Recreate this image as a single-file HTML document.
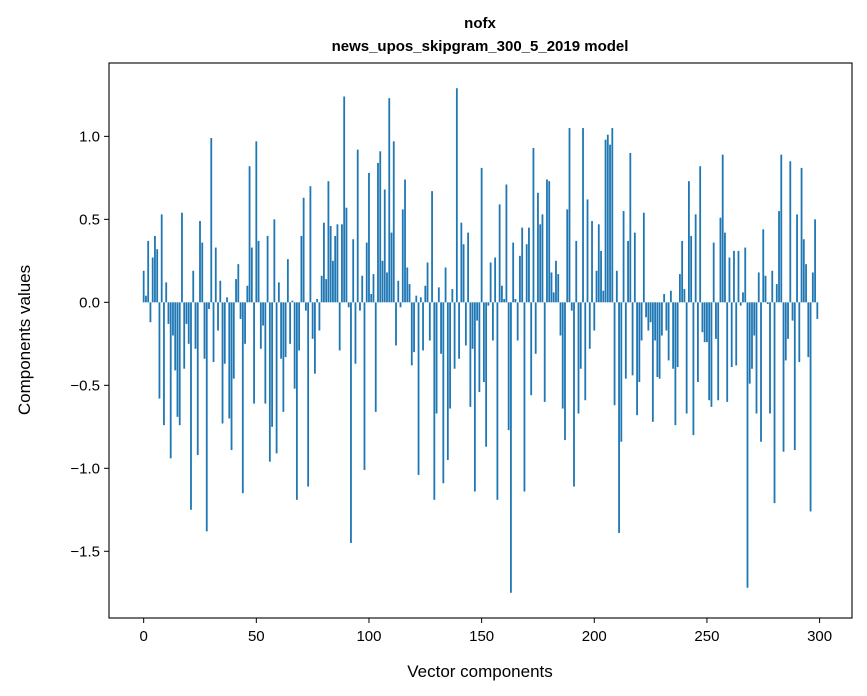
<!DOCTYPE html>
<html><head><meta charset="utf-8"><style>
body{margin:0;background:#fff;}
svg{display:block;font-family:"Liberation Sans","DejaVu Sans",sans-serif;}
</style></head><body>
<svg id="chart" width="867" height="696">
<rect width="867" height="696" fill="#fff"/>
<text x="480" y="28" text-anchor="middle" font-size="15" font-weight="bold">nofx</text>
<text x="480" y="51" text-anchor="middle" font-size="15" font-weight="bold">news_upos_skipgram_300_5_2019 model</text>
<g id="bars"></g>
<g id="axes"></g>
<text x="480" y="677" text-anchor="middle" font-size="17">Vector components</text>
<text transform="translate(30,340) rotate(-90)" text-anchor="middle" font-size="17">Components values</text>
</svg>
<script>
const values = [
0.19,0.04,0.37,-0.12,0.27,0.40,0.32,-0.58,0.53,-0.74,
0.12,-0.13,-0.94,-0.20,-0.41,-0.69,-0.74,0.54,-0.40,-0.13,
-0.25,-1.25,0.19,-0.28,-0.92,0.49,0.36,-0.34,-1.38,-0.04,
0.99,-0.36,0.33,-0.17,0.13,-0.73,-0.37,0.03,-0.70,-0.89,
-0.46,0.14,0.23,-0.10,-1.15,-0.25,0.10,0.82,0.33,-0.61,
0.97,0.37,-0.28,-0.14,-0.61,0.40,-0.96,-0.75,0.50,-0.91,
0.12,-0.34,-0.66,-0.33,0.26,-0.25,0.01,-0.52,-1.19,-0.29,
0.40,0.63,-0.05,-1.11,0.70,-0.22,-0.43,0.02,-0.17,0.16,
0.48,0.14,0.73,0.46,0.25,0.40,0.47,-0.29,0.47,1.24,
0.57,-0.03,-1.45,0.38,-0.37,0.92,-0.05,0.16,-1.01,0.36,
0.78,0.05,0.17,-0.66,0.84,0.91,0.25,0.68,0.18,1.23,
0.42,0.97,-0.26,0.13,-0.03,0.56,0.74,0.21,0.11,-0.38,
-0.30,0.04,-1.04,0.03,-0.29,0.10,0.24,-0.23,0.67,-1.19,
-0.67,0.09,-0.31,-1.09,0.21,-0.95,-0.64,0.08,-0.40,1.29,
-0.34,0.48,0.35,-0.26,0.42,-0.63,-0.28,-1.14,-0.11,-0.54,
0.81,-0.48,-0.87,-0.02,0.24,-0.23,0.27,-1.19,0.59,0.10,
0.02,0.71,-0.77,-1.75,0.36,0.02,-0.23,0.28,0.45,-1.14,
0.35,0.45,-0.56,0.93,-0.31,0.66,0.47,0.53,-0.60,0.74,
0.73,0.18,0.06,0.25,0.17,-0.20,-0.64,-0.83,0.56,1.05,
-0.05,-1.11,0.37,-0.67,-0.40,1.05,-0.59,0.62,-0.28,0.49,
-0.17,0.19,0.47,0.31,0.07,0.98,1.01,0.95,1.05,-0.62,
0.19,-1.39,-0.84,0.55,-0.46,0.37,0.90,-0.44,0.42,-0.68,
-0.48,-0.23,0.54,-0.09,-0.17,-0.12,-0.72,-0.23,-0.45,-0.46,
-0.20,0.05,-0.17,-0.35,0.07,-0.40,-0.74,-0.39,0.17,0.37,
0.08,-0.67,0.73,0.40,-0.80,0.53,-0.48,0.82,-0.18,-0.24,
-0.24,-0.59,-0.63,0.36,-0.22,-0.59,0.51,0.89,0.42,-0.60,
0.27,-0.39,0.31,-0.38,0.31,-0.02,0.06,0.33,-1.72,-0.49,
-0.40,-0.20,-0.67,0.18,-0.84,0.44,0.16,-0.01,-0.67,0.19,
-1.21,0.11,0.55,0.89,-0.90,-0.35,-0.22,0.85,-0.11,-0.89,
0.53,-0.36,0.81,0.38,0.23,-0.33,-1.26,0.18,0.50,-0.10
];
const xTicks = [0,50,100,150,200,250,300];
const yTicks = [-1.5,-1.0,-0.5,0.0,0.5,1.0];
const yTickLabels = ["\u22121.5","\u22121.0","\u22120.5","0.0","0.5","1.0"];

const L=109,R=852,T=63,B=618;
const n=values.length;
const vmin=Math.min(0,...values), vmax=Math.max(0,...values);
const xmin=-0.4-0.05*(n-0.2), xmax=(n-1+0.4)+0.05*(n-0.2);
const ymin=vmin-0.05*(vmax-vmin), ymax=vmax+0.05*(vmax-vmin);
const sx=v=>L+(v-xmin)/(xmax-xmin)*(R-L);
const sy=v=>B-(v-ymin)/(ymax-ymin)*(B-T);
const NS="http://www.w3.org/2000/svg";
const bars=document.getElementById('bars');
values.forEach((v,i)=>{
  const r=document.createElementNS(NS,'rect');
  const x0=sx(i-0.4), x1=sx(i+0.4);
  const y0=sy(Math.max(v,0)), y1=sy(Math.min(v,0));
  r.setAttribute('x',x0);r.setAttribute('width',x1-x0);
  r.setAttribute('y',y0);r.setAttribute('height',Math.max(y1-y0,0.01));
  r.setAttribute('fill','#1f77b4');
  
  
  bars.appendChild(r);
});
const axes=document.getElementById('axes');
const fr=document.createElementNS(NS,'rect');
fr.setAttribute('x',L);fr.setAttribute('y',T);fr.setAttribute('width',R-L);fr.setAttribute('height',B-T);
fr.setAttribute('fill','none');fr.setAttribute('stroke','#000');fr.setAttribute('stroke-width','1.1');


axes.appendChild(fr);
xTicks.forEach(t=>{
  const x=sx(t);
  const l=document.createElementNS(NS,'line');
  l.setAttribute('x1',x);l.setAttribute('x2',x);l.setAttribute('y1',B);l.setAttribute('y2',B+5);
  l.setAttribute('stroke','#000');
  
  
  axes.appendChild(l);
  const tx=document.createElementNS(NS,'text');
  tx.setAttribute('x',x);tx.setAttribute('y',B+23);tx.setAttribute('text-anchor','middle');tx.setAttribute('font-size','15');
  tx.textContent=String(t);
  
  
  axes.appendChild(tx);
});
yTicks.forEach((t,k)=>{
  const y=sy(t);
  const l=document.createElementNS(NS,'line');
  l.setAttribute('x1',L-5);l.setAttribute('x2',L);l.setAttribute('y1',y);l.setAttribute('y2',y);
  l.setAttribute('stroke','#000');
  
  
  axes.appendChild(l);
  const tx=document.createElementNS(NS,'text');
  tx.setAttribute('x',L-9);tx.setAttribute('y',y+5);tx.setAttribute('text-anchor','end');tx.setAttribute('font-size','15');
  tx.textContent=yTickLabels[k];
  
  
  axes.appendChild(tx);
});
</script>
</body></html>
